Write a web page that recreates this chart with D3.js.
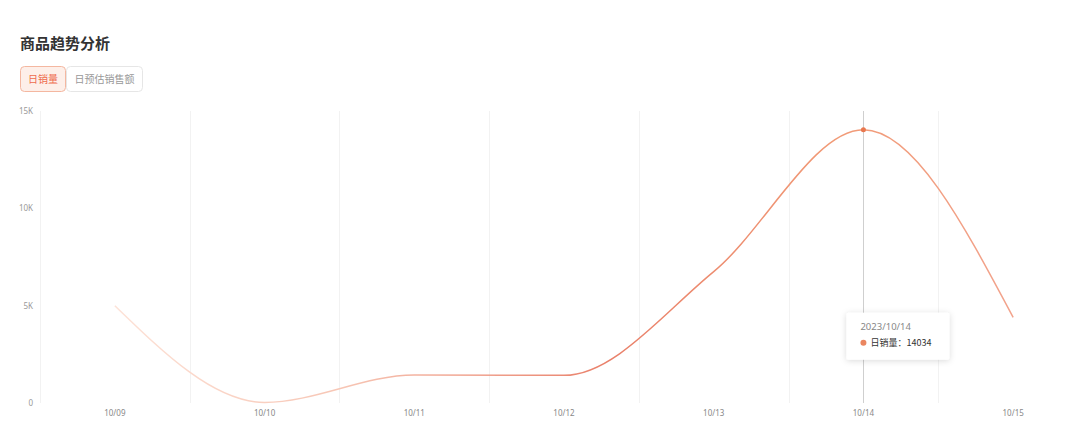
<!DOCTYPE html>
<html>
<head>
<meta charset="utf-8">
<script src="https://cdn.jsdelivr.net/npm/d3@7"></script>
<style>
  html, body { margin: 0; padding: 0; background: #fff; overflow: hidden; }
  body { font-family: "Noto Sans CJK SC", "Noto Sans", sans-serif; }
</style>
</head>
<body>
<div class="chart"></div>
<script>
// data
const dates = ["10/09", "10/10", "10/11", "10/12", "10/13", "10/14", "10/15"];
const fullDates = ["2023/10/09", "2023/10/10", "2023/10/11", "2023/10/12", "2023/10/13", "2023/10/14", "2023/10/15"];
const sales = [5000, 30, 1440, 1420, 6750, 14034, 4400];
const yTicks = [0, 5000, 10000, 15000];
const tabs = ["日销量", "日预估销售额"];
const seriesName = "日销量";
const activeIndex = 5;

const W = 1080, H = 433;
const margin = {top: 111, right: -8, bottom: 30, left: 40};
const width = W - margin.left - margin.right,
      height = H - margin.top - margin.bottom;

const root = d3.select(".chart").append("svg")
    .attr("width", W)
    .attr("height", H);

// title
root.append("text")
    .attr("x", 20).attr("y", 49)
    .attr("font-size", 15).attr("font-weight", "bold")
    .attr("fill", "#333")
    .text("商品趋势分析");

// tabs
const tabW = [46, 77];
let tx = 20;
tabs.forEach((t, i) => {
    const active = i === 0;
    root.append("rect")
        .attr("x", tx + 0.5).attr("y", 66.5)
        .attr("width", tabW[i] - 1).attr("height", 25)
        .attr("rx", 4)
        .attr("fill", active ? "#fdefe9" : "#fff")
        .attr("stroke", active ? "#f4b7a0" : "#e6e6e6");
    root.append("text")
        .attr("x", tx + tabW[i] / 2).attr("y", 83)
        .attr("text-anchor", "middle")
        .attr("font-size", 10)
        .attr("fill", active ? "#ee6b4d" : "#999")
        .text(t);
    tx += tabW[i];
});

const svg = root.append("g")
    .attr("transform", `translate(${margin.left},${margin.top})`);

// scales
const xScale = d3.scaleBand().domain(dates).range([0, width]);
const xPos = d => xScale(d) + xScale.bandwidth() / 2;
const yScale = d3.scaleLinear().domain([0, 15000]).range([height, 0]);

// vertical grid at band boundaries
svg.append("g")
    .selectAll("line")
    .data(dates)
    .join("line")
    .attr("x1", d => Math.round(xScale(d)) + 0.5)
    .attr("x2", d => Math.round(xScale(d)) + 0.5)
    .attr("y1", 0).attr("y2", height)
    .attr("stroke", "#f2f2f2");

// axes
const fmt = v => v === 0 ? "0" : (v / 1000) + "K";
const yAxis = d3.axisLeft(yScale).tickValues(yTicks).tickFormat(fmt).tickSize(0).tickPadding(7);
const yAxisSVG = svg.append("g").attr("class", "axis y-axis").call(yAxis);
yAxisSVG.select(".domain").remove();
yAxisSVG.selectAll("text").attr("font-size", 8).attr("fill", "#999").attr("font-family", "Noto Sans");

const xAxis = d3.axisBottom(xScale).tickSize(0).tickPadding(7);
const xAxisSVG = svg.append("g").attr("class", "axis x-axis")
    .attr("transform", `translate(0, ${height})`).call(xAxis);
xAxisSVG.select(".domain").remove();
xAxisSVG.selectAll("text").attr("font-size", 8).attr("fill", "#888").attr("font-family", "Noto Sans");

// gradient for line
const defs = root.append("defs");
const grad = defs.append("linearGradient")
    .attr("id", "lineGrad")
    .attr("gradientUnits", "userSpaceOnUse")
    .attr("x1", xPos(dates[0])).attr("x2", xPos(dates[dates.length - 1]))
    .attr("y1", 0).attr("y2", 0);
grad.append("stop").attr("offset", "0%").attr("stop-color", "#fde2d7");
grad.append("stop").attr("offset", "25%").attr("stop-color", "#f7c6b5");
grad.append("stop").attr("offset", "55%").attr("stop-color", "#e9806a");
grad.append("stop").attr("offset", "80%").attr("stop-color", "#f19a76");
grad.append("stop").attr("offset", "100%").attr("stop-color", "#f2a38c");

// hover axis line
svg.append("line")
    .attr("x1", Math.round(xPos(dates[activeIndex])) + 0.5)
    .attr("x2", Math.round(xPos(dates[activeIndex])) + 0.5)
    .attr("y1", 0).attr("y2", height)
    .attr("stroke", "#cfcfcf");

// line
const line = d3.line()
    .x((d, i) => xPos(dates[i]))
    .y(d => yScale(d))
    .curve(d3.curveMonotoneX);

svg.append("path")
    .datum(sales)
    .attr("d", line)
    .attr("fill", "none")
    .attr("stroke", "url(#lineGrad)")
    .attr("stroke-width", 1.5);

// active point
svg.append("circle")
    .attr("cx", xPos(dates[activeIndex]))
    .attr("cy", yScale(sales[activeIndex]))
    .attr("r", 2.5)
    .attr("fill", "#e9784f");

// tooltip
const tipX = xPos(dates[activeIndex]) - 17, tipY = yScale(5000) + 7;
const tipF = defs.append("filter").attr("id", "shadow")
    .attr("x", "-20%").attr("y", "-30%").attr("width", "140%").attr("height", "160%");
tipF.append("feDropShadow").attr("dx", 0).attr("dy", 1).attr("stdDeviation", 3)
    .attr("flood-color", "#000").attr("flood-opacity", 0.15);
const tip = svg.append("g").attr("transform", `translate(${tipX},${tipY})`);
tip.append("rect")
    .attr("width", 103).attr("height", 47).attr("rx", 2)
    .attr("fill", "#fff").attr("filter", "url(#shadow)");
tip.append("text")
    .attr("x", 14).attr("y", 17)
    .attr("font-size", 9.5).attr("fill", "#888").attr("font-family", "Noto Sans")
    .text(fullDates[activeIndex]);
tip.append("circle")
    .attr("cx", 17).attr("cy", 30).attr("r", 3)
    .attr("fill", "#ea8660");
tip.append("text")
    .attr("x", 24).attr("y", 33.5)
    .attr("font-size", 9).attr("fill", "#333")
    .text(seriesName + "：" + sales[activeIndex]);
</script>
</body>
</html>
